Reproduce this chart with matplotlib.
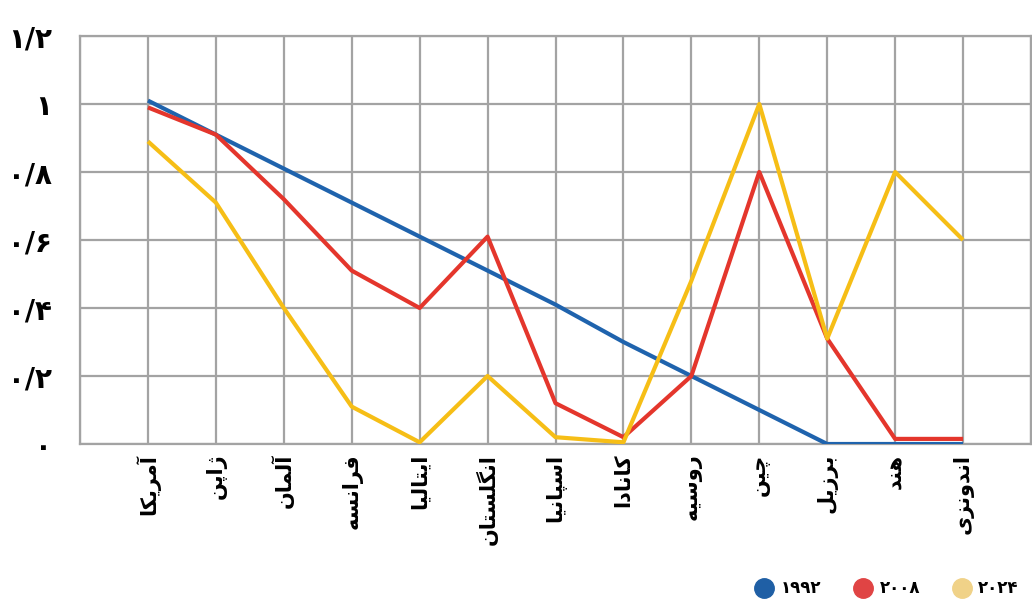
import matplotlib
matplotlib.use("Agg")
import matplotlib.pyplot as plt
from matplotlib.lines import Line2D

# data
countries = ["آمریکا", "ژاپن", "آلمان", "فرانسه", "ایتالیا", "انگلستان", "اسپانیا",
             "کانادا", "روسیه", "چین", "برزیل", "هند", "اندونزی"]
v1992 = [1.01, 0.91, 0.81, 0.71, 0.61, 0.51, 0.41, 0.30, 0.20, 0.10, 0.0, 0.0, 0.0]
v2008 = [0.99, 0.91, 0.72, 0.51, 0.40, 0.61, 0.12, 0.02, 0.20, 0.80, 0.31, 0.015, 0.015]
v2024 = [0.89, 0.71, 0.40, 0.11, 0.005, 0.20, 0.02, 0.005, 0.48, 1.00, 0.31, 0.80, 0.60]
yticks = [0, 0.2, 0.4, 0.6, 0.8, 1.0, 1.2]
ytick_labels = ["۰", "۰/۲", "۰/۴", "۰/۶", "۰/۸", "۱", "۱/۲"]
series_names = ["۱۹۹۲", "۲۰۰۸", "۲۰۲۴"]

# simple arabic/persian shaping (matplotlib does not join letters or do RTL)
# char: (isolated, final, initial, medial)
forms = {
    "ا": ("\uFE8D", "\uFE8E", None, None),
    "آ": ("\uFE81", "\uFE82", None, None),
    "ب": ("\uFE8F", "\uFE90", "\uFE91", "\uFE92"),
    "پ": ("\uFB56", "\uFB57", "\uFB58", "\uFB59"),
    "ت": ("\uFE95", "\uFE96", "\uFE97", "\uFE98"),
    "چ": ("\uFB7A", "\uFB7B", "\uFB7C", "\uFB7D"),
    "د": ("\uFEA9", "\uFEAA", None, None),
    "ر": ("\uFEAD", "\uFEAE", None, None),
    "ز": ("\uFEAF", "\uFEB0", None, None),
    "ژ": ("\uFB8A", "\uFB8B", None, None),
    "س": ("\uFEB1", "\uFEB2", "\uFEB3", "\uFEB4"),
    "ف": ("\uFED1", "\uFED2", "\uFED3", "\uFED4"),
    "ک": ("\uFB8E", "\uFB8F", "\uFB90", "\uFB91"),
    "گ": ("\uFB92", "\uFB93", "\uFB94", "\uFB95"),
    "ل": ("\uFEDD", "\uFEDE", "\uFEDF", "\uFEE0"),
    "م": ("\uFEE1", "\uFEE2", "\uFEE3", "\uFEE4"),
    "ن": ("\uFEE5", "\uFEE6", "\uFEE7", "\uFEE8"),
    "ه": ("\uFEE9", "\uFEEA", "\uFEEB", "\uFEEC"),
    "و": ("\uFEED", "\uFEEE", None, None),
    "ی": ("\uFBFC", "\uFBFD", "\uFBFE", "\uFBFF"),
}


def shape(word):
    out = []
    n = len(word)
    for i, c in enumerate(word):
        f = forms.get(c)
        if f is None:
            out.append(c)
            continue
        prev = word[i - 1] if i > 0 else None
        nxt = word[i + 1] if i < n - 1 else None
        joins_prev = prev in forms and forms[prev][2] is not None
        joins_next = f[2] is not None and nxt in forms
        if joins_prev and joins_next:
            out.append(f[3])
        elif joins_prev:
            out.append(f[1])
        elif joins_next:
            out.append(f[2])
        else:
            out.append(f[0])
    return "".join(out)[::-1]


fig = plt.figure(figsize=(10.32, 6.0), dpi=100)
ax = fig.add_axes([80 / 1032, 1 - 444 / 600, 951 / 1032, (444 - 36) / 600])

x = list(range(len(countries)))
ax.plot(x, v1992, color="#1f63ad", lw=3, solid_capstyle="butt", zorder=3)
ax.plot(x, v2008, color="#e4362c", lw=3, solid_capstyle="butt", zorder=4)
ax.plot(x, v2024, color="#f6be16", lw=3, solid_capstyle="butt", zorder=5)

ax.set_xlim(-1, len(countries))
ax.set_ylim(0, 1.2)
ax.set_xticks(range(-1, len(countries) + 1))
ax.set_xticklabels([""] + [shape(c) for c in countries] + [""], rotation=90,
                   fontsize=15, fontweight="bold", va="top", ha="center")
ax.set_yticks(yticks)
ax.set_yticklabels(ytick_labels, fontsize=20, fontweight="bold")
ax.tick_params(length=0)
ax.tick_params(axis="y", pad=20)
ax.tick_params(axis="x", pad=7)
ax.grid(True, color="#a3a3a3", lw=1.6, zorder=0)
for s in ax.spines.values():
    s.set_color("#a3a3a3")
    s.set_linewidth(1.6)

handles = [Line2D([], [], ls="", marker="o", ms=14, color=c)
           for c in ["#1f5fa5", "#e04444", "#f0d288"]]
fig.legend(handles, series_names, loc="lower right", bbox_to_anchor=(0.992, -0.004),
           ncol=3, frameon=False, prop={"size": 12, "weight": "bold"},
           handlelength=1.0, handletextpad=0.5, columnspacing=2.0,
           borderaxespad=0.1, borderpad=0.2)

fig.savefig("out.png", dpi=100)
